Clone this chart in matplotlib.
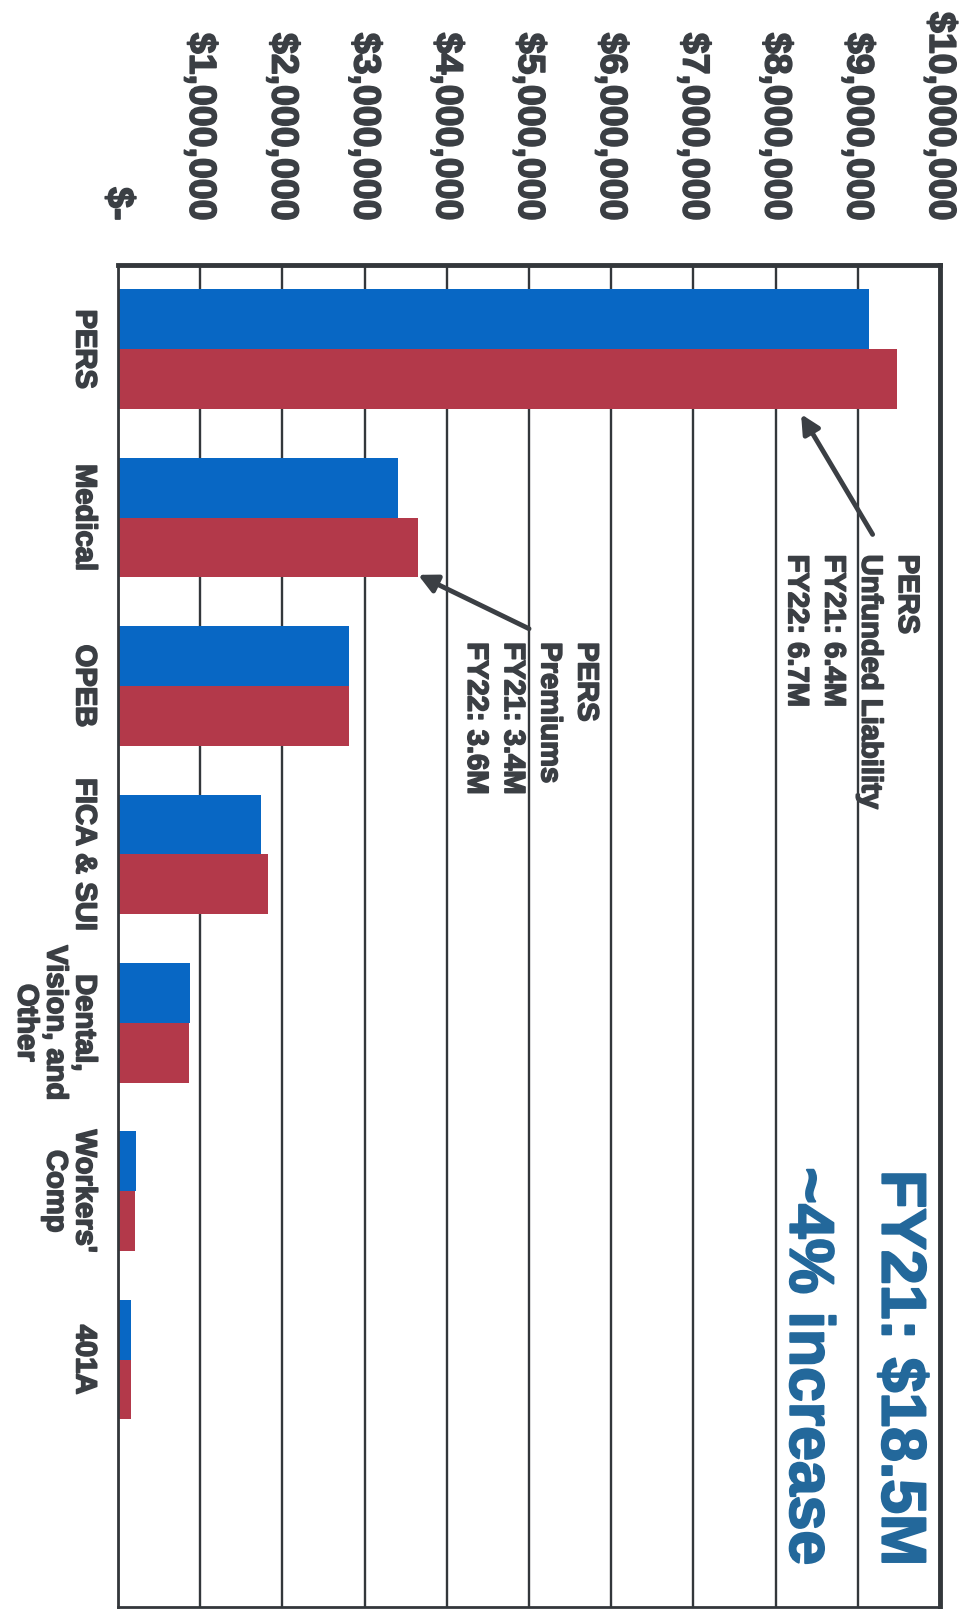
import matplotlib.pyplot as plt
import matplotlib.patheffects as pe

plt.rcParams['font.family'] = ['Liberation Sans', 'DejaVu Sans']
plt.rcParams['font.weight'] = 'bold'

categories = ["PERS", "Medical", "OPEB", "FICA & SUI",
              "Dental,\nVision, and\nOther", "Workers'\nComp", "401A"]
fy21 = [9.14e6, 3.40e6, 2.81e6, 1.74e6, 0.87e6, 0.22e6, 0.16e6]
fy22 = [9.48e6, 3.65e6, 2.81e6, 1.82e6, 0.86e6, 0.21e6, 0.155e6]
tick_values = [0, 1e6, 2e6, 3e6, 4e6, 5e6, 6e6, 7e6, 8e6, 9e6, 10e6]
tick_labels = ["$-", "$1,000,000", "$2,000,000", "$3,000,000", "$4,000,000",
               "$5,000,000", "$6,000,000", "$7,000,000", "$8,000,000",
               "$9,000,000", "$10,000,000"]

dark = '#3b3f44'
blue = '#0867c4'
red = '#b3394a'
title_blue = '#23689b'

# thicken glyphs a bit, the scan uses a heavier face
heavy = [pe.withStroke(linewidth=1.2, foreground=dark)]
heavy_blue = [pe.withStroke(linewidth=1.5, foreground=title_blue)]

fig = plt.figure(figsize=(9.66, 16.09), dpi=100)
ax = fig.add_axes([0.1222, 0.0012, 0.8509, 0.8341])

pos = list(range(len(categories)))
h = 0.355
ax.barh([p - h / 2 for p in pos], fy21, height=h, color=blue, zorder=2)
ax.barh([p + h / 2 for p in pos], fy22, height=h, color=red, zorder=2)

ax.set_xlim(0, 10e6)
ax.set_ylim(7.47, -0.5)
ax.set_axisbelow(True)
ax.grid(axis='x', color='#33373b', lw=1.7)
ax.grid(axis='y', visible=False)

# value axis on top, labels read top-to-bottom
ax.xaxis.tick_top()
ax.set_xticks(tick_values)
ax.set_xticklabels(tick_labels, rotation=-90, fontsize=27, color=dark,
                   fontweight='bold', ha='center', va='bottom')
ax.tick_params(axis='x', length=0, pad=32)

ax.set_yticks(pos)
ax.set_yticklabels(categories, rotation=-90, fontsize=21, color=dark,
                   fontweight='bold', ha='right', va='center', ma='center',
                   linespacing=1.05)
ax.tick_params(axis='y', length=0, pad=14)
for lab in ax.get_xticklabels() + ax.get_yticklabels():
    lab.set_path_effects(heavy)

for side, lw in [('top', 3.5), ('right', 3.5), ('left', 2), ('bottom', 2)]:
    ax.spines[side].set_color('#33373b')
    ax.spines[side].set_linewidth(lw)

# annotations
arrow = dict(arrowstyle='-|>', color=dark, lw=3.5, mutation_scale=28,
             shrinkA=0, shrinkB=0)
ax.annotate("", xy=(8.31e6, 0.386), xytext=(9.18e6, 1.10), arrowprops=arrow)
ax.text(9.77e6, 1.22, "PERS\nUnfunded Liability\nFY21: 6.4M\nFY22: 6.7M",
        rotation=-90, ha='right', va='top', ma='left', fontsize=21,
        fontweight='bold', color=dark, linespacing=1.4, path_effects=heavy)

ax.annotate("", xy=(3.65e6, 1.34), xytext=(5.0e6, 1.66), arrowprops=arrow)
ax.text(5.87e6, 1.74, "PERS\nPremiums\nFY21: 3.4M\nFY22: 3.6M",
        rotation=-90, ha='right', va='top', ma='left', fontsize=21,
        fontweight='bold', color=dark, linespacing=1.4, path_effects=heavy)

ax.text(9.50e6, 6.05, "FY21: $18.5M", rotation=-90, ha='center', va='center',
        fontsize=45, fontweight='bold', color=title_blue,
        path_effects=heavy_blue)
ax.text(8.38e6, 6.04, "~4% increase", rotation=-90, ha='center', va='center',
        fontsize=45, fontweight='bold', color=title_blue,
        path_effects=heavy_blue)

fig.savefig('out.png', dpi=100)
